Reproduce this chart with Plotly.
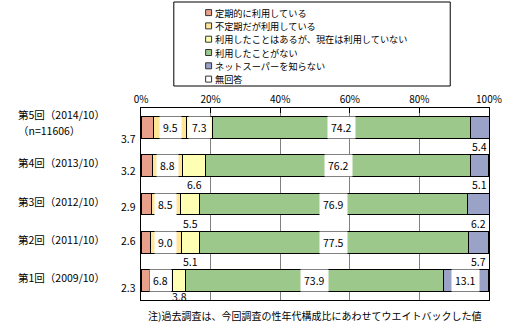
import plotly.graph_objects as go

# ---- data ----
categories = ["第5回（2014/10）", "第4回（2013/10）", "第3回（2012/10）", "第2回（2011/10）", "第1回（2009/10）"]
sample_note = "（n=11606）"
series_names = ["定期的に利用している", "不定期だが利用している",
                "利用したことはあるが、現在は利用していない", "利用したことがない",
                "ネットスーパーを知らない", "無回答"]
teiki = [3.7, 3.2, 2.9, 2.6, 2.3]
futeiki = [9.5, 8.8, 8.5, 9.0, 6.8]
kako = [7.3, 6.6, 5.5, 5.1, 3.8]
nai = [74.2, 76.2, 76.9, 77.5, 73.9]
shiranai = [5.4, 5.1, 6.2, 5.7, 13.1]
mukaito = [0.0, 0.0, 0.0, 0.0, 0.0]
x_ticks = [0, 20, 40, 60, 80, 100]
x_ticktext = ["0%", "20%", "40%", "60%", "80%", "100%"]
footnote = "注)過去調査は、今回調査の性年代構成比にあわせてウエイトバックした値"

# ---- style ----
colors = ["#E9A08B", "#FFE699", "#FFFFB3", "#9DC88B", "#9AA2C8", "#FFFFFF"]
FONT = "Noto Sans CJK JP"
W, H = 514, 327
L, R, T, B = 141, 23, 108, 27
PW, PH = W - L - R, H - T - B

def pxx(px):
    return (px - L) / PW

def pxy(py):
    return (H - B - py) / PH

n = len(categories)
ypos = [n - 1 - i for i in range(n)]  # top row first
series = [teiki, futeiki, kako, nai, shiranai, mukaito]

fig = go.Figure()
for name, vals, col in zip(series_names, series, colors):
    fig.add_trace(go.Bar(
        y=ypos, x=vals, orientation="h", name=name, width=0.57,
        marker=dict(color=col, line=dict(color="black", width=1)),
        showlegend=False, hoverinfo="skip",
    ))

ann = []
lab_font = dict(family=FONT, size=10.5, color="black")
teiki_shift = [-11, -5, -2, 2, -7]

for i in range(n):
    y = ypos[i]
    cum = [0]
    for s in series:
        cum.append(cum[-1] + s[i])
    # 定期的
    ann.append(dict(x=0, y=y, xref="x", yref="y", text=f"{teiki[i]:.1f}", showarrow=False,
                    xanchor="right", xshift=-3, yshift=teiki_shift[i], font=lab_font))
    # 不定期
    ann.append(dict(x=(cum[1] + cum[2]) / 2, y=y, xref="x", yref="y", text=f"{futeiki[i]:.1f}",
                    showarrow=False, bgcolor="white", borderpad=3, font=lab_font))
    # 利用したことはある
    cx = (cum[2] + cum[3]) / 2
    if kako[i] >= 7:
        ann.append(dict(x=cx, y=y, xref="x", yref="y", text=f"{kako[i]:.1f}", showarrow=False,
                        bgcolor="white", borderpad=3, font=lab_font))
    else:
        ann.append(dict(x=cx, y=y, xref="x", yref="y", text=f"{kako[i]:.1f}", showarrow=False,
                        yshift=-19 if i < n - 1 else -16, font=lab_font))
    # 利用したことがない
    ann.append(dict(x=(cum[3] + cum[4]) / 2, y=y, xref="x", yref="y", text=f"{nai[i]:.1f}",
                    showarrow=False, bgcolor="white", borderpad=3, font=lab_font))
    # 知らない
    cx = (cum[4] + min(cum[5], 100)) / 2
    if shiranai[i] >= 10:
        ann.append(dict(x=cx, y=y, xref="x", yref="y", text=f"{shiranai[i]:.1f}", showarrow=False,
                        bgcolor="white", borderpad=3, font=lab_font))
    else:
        ann.append(dict(x=cx, y=y, xref="x", yref="y", text=f"{shiranai[i]:.1f}", showarrow=False,
                        yshift=-19, font=lab_font))

# category labels
cat_font = dict(family=FONT, size=10.5, color="black")
for i, c in enumerate(categories):
    if i == 0:
        ann.append(dict(x=pxx(15), y=ypos[i], xref="paper", yref="y", text=c, showarrow=False,
                        xanchor="left", yshift=13, font=cat_font))
        ann.append(dict(x=pxx(15), y=ypos[i], xref="paper", yref="y", text=sample_note,
                        showarrow=False, xanchor="left", yshift=-3, font=cat_font))
    else:
        ann.append(dict(x=pxx(15), y=ypos[i], xref="paper", yref="y", text=c, showarrow=False,
                        xanchor="left", yshift=3, font=cat_font))

# footnote
ann.append(dict(x=pxx(146), y=pxy(315), xref="paper", yref="paper", text=footnote,
                showarrow=False, xanchor="left", yanchor="middle",
                font=dict(family=FONT, size=10, color="black")))

# manual legend
shapes = [dict(type="rect", xref="paper", yref="paper", x0=pxx(174), x1=pxx(452),
               y0=pxy(86), y1=pxy(2), line=dict(color="black", width=1), fillcolor="white")]
for k, (name, col) in enumerate(zip(series_names, colors)):
    cy = 12.6 + 13.3 * k
    shapes.append(dict(type="rect", xref="paper", yref="paper", x0=pxx(206), x1=pxx(212),
                       y0=pxy(cy + 3), y1=pxy(cy - 3), line=dict(color="#333333", width=1),
                       fillcolor=col))
    ann.append(dict(x=pxx(214), y=pxy(cy), xref="paper", yref="paper", text=name,
                    showarrow=False, xanchor="left", yanchor="middle",
                    borderpad=0, font=dict(family=FONT, size=9.2, color="black")))

fig.update_layout(
    width=W, height=H, margin=dict(l=L, r=R, t=T, b=B),
    barmode="stack", plot_bgcolor="white", paper_bgcolor="white",
    annotations=ann, shapes=shapes,
    xaxis=dict(range=[0, 100], side="top", tickvals=x_ticks, ticktext=x_ticktext,
               showgrid=True, gridcolor="#808080", gridwidth=1, zeroline=False,
               showline=True, mirror=True, linecolor="black", linewidth=1,
               ticks="inside", ticklen=5, tickcolor="black",
               tickfont=dict(family=FONT, size=10, color="black")),
    yaxis=dict(range=[-0.5, n - 0.5], showticklabels=False, showgrid=False, zeroline=False,
               showline=True, mirror=True, linecolor="black", linewidth=1, ticks=""),
    showlegend=False,
)

fig.write_html("out.html")
